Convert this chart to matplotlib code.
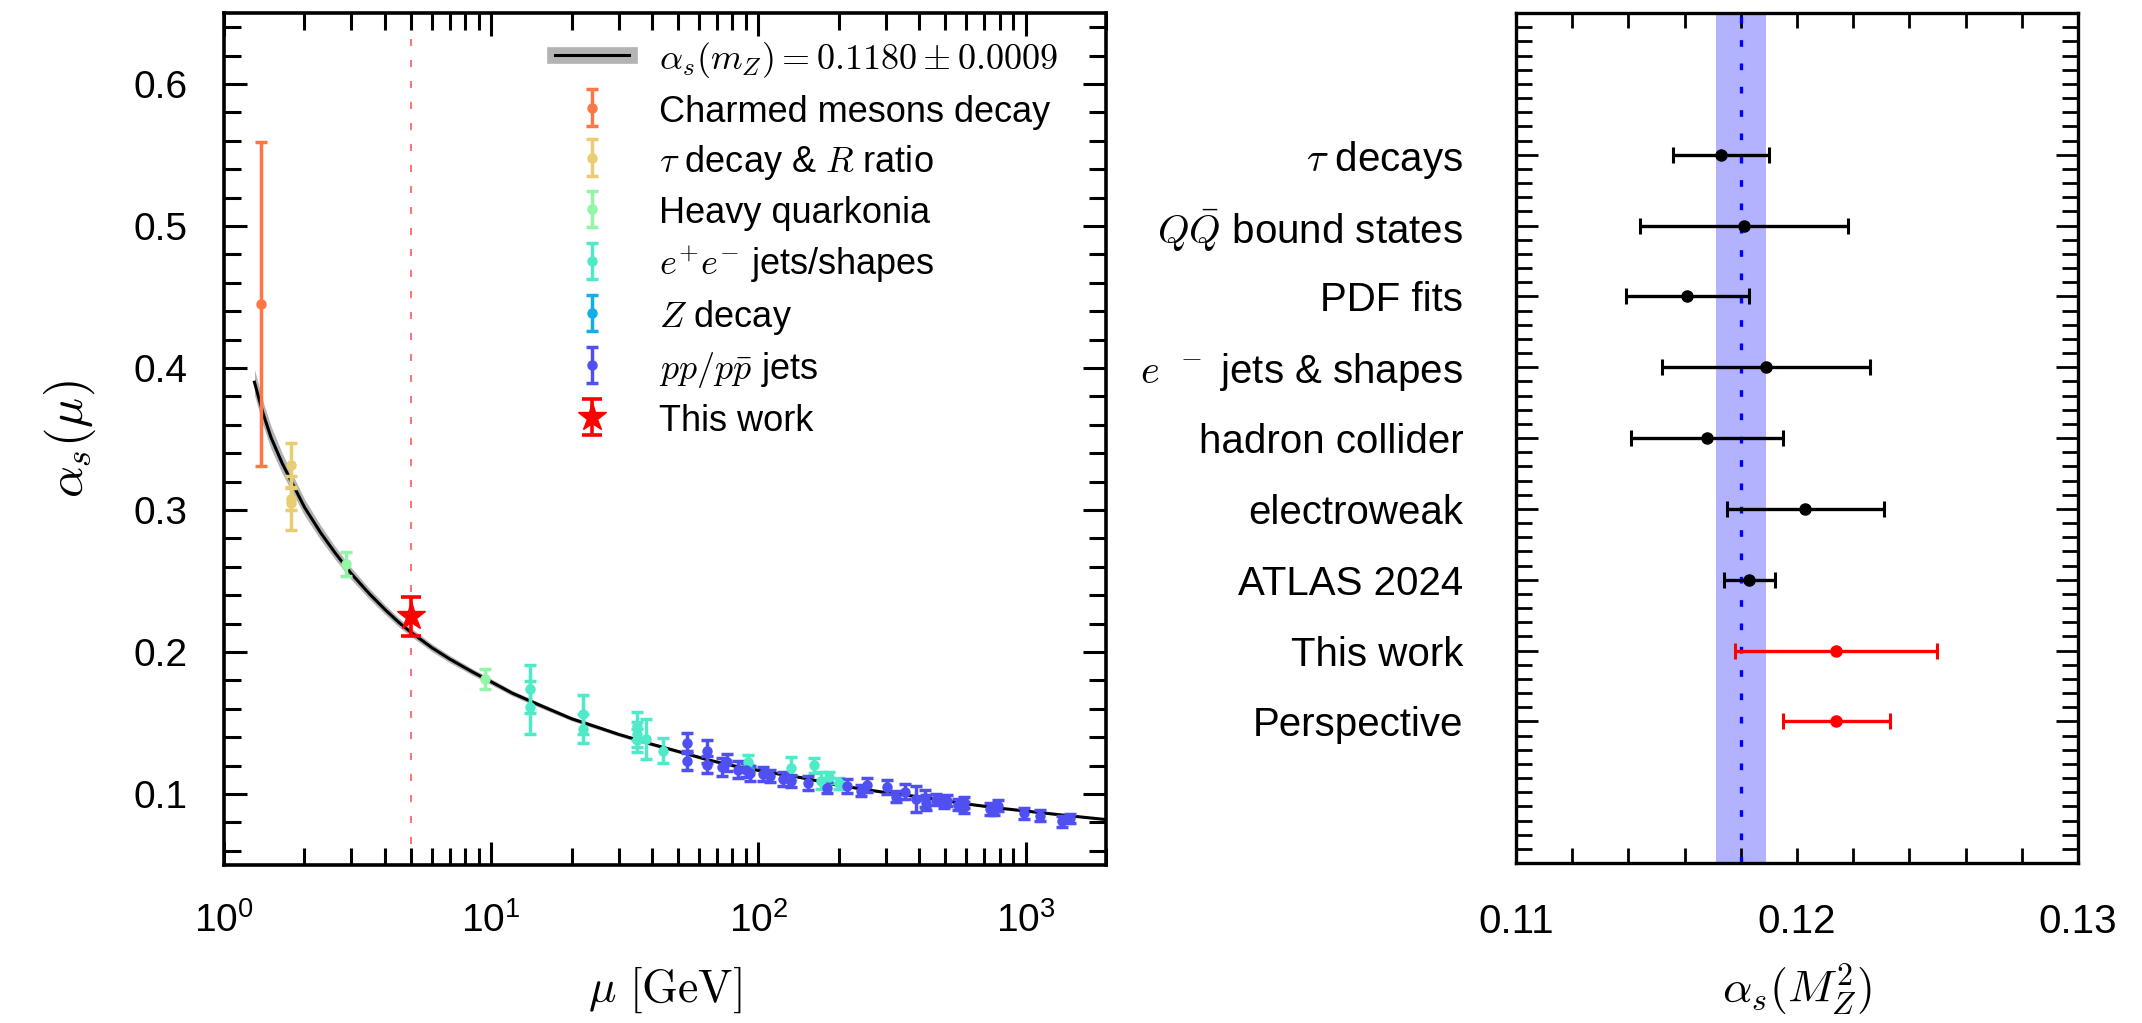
import numpy as np
import matplotlib
matplotlib.use('Agg')
import matplotlib.pyplot as plt
from matplotlib.ticker import MultipleLocator, NullFormatter
from matplotlib.lines import Line2D

plt.rcParams['font.family'] = ['Liberation Sans', 'DejaVu Sans']
plt.rcParams['mathtext.fontset'] = 'custom'
plt.rcParams['mathtext.rm'] = 'Liberation Sans'
plt.rcParams['mathtext.it'] = 'Liberation Sans:italic'
plt.rcParams['mathtext.bf'] = 'Liberation Sans:bold'

# ---- left panel: running coupling curve ----
curve_mu = np.array([1.3, 1.4, 1.5, 1.65, 1.8, 2.0, 2.3, 2.6, 3.0, 3.5, 4.0, 4.5, 5.0,
                     6.0, 7.0, 8.5, 10, 12, 15, 20, 25, 30, 40, 50, 65, 80, 91.2,
                     120, 150, 200, 300, 400, 600, 800, 1000, 1400, 2000])
curve_alpha = np.array([0.390, 0.368, 0.351, 0.333, 0.319, 0.302, 0.284, 0.270, 0.255,
                        0.241, 0.230, 0.221, 0.214, 0.203, 0.195, 0.186, 0.179, 0.171,
                        0.163, 0.153, 0.147, 0.142, 0.135, 0.130, 0.124, 0.120, 0.118,
                        0.114, 0.111, 0.106, 0.101, 0.098, 0.093, 0.090, 0.088, 0.085,
                        0.082])
curve_band = np.array([0.009, 0.0085, 0.008, 0.0072, 0.0065, 0.0058, 0.0051, 0.0046, 0.0042,
                       0.0037, 0.0034, 0.0031, 0.0030, 0.0027, 0.0025, 0.0023, 0.0021,
                       0.0019, 0.0017, 0.0015, 0.0014, 0.0013, 0.0012, 0.0011, 0.0010,
                       0.0009, 0.0009, 0.0008, 0.0008, 0.0007, 0.0007, 0.0006, 0.0006,
                       0.0005, 0.0005, 0.0005, 0.0004])

charm_mu = [1.38]
charm_a = [0.445]
charm_e = [0.114]

tau_mu = [1.78, 1.78, 1.78]
tau_a = [0.332, 0.308, 0.305]
tau_e = [0.0155, 0.0077, 0.019]

quark_mu = [2.87, 9.46]
quark_a = [0.262, 0.181]
quark_e = [0.0085, 0.007]

ee_mu = [14, 14, 22, 22, 35, 35, 35, 38, 44, 91.2, 133, 161, 172, 183, 200]
ee_a = [0.174, 0.161, 0.156, 0.146, 0.148, 0.142, 0.1377, 0.1387, 0.1306, 0.1228,
        0.1183, 0.1204, 0.1094, 0.1118, 0.1075]
ee_e = [0.017, 0.0185, 0.014, 0.010, 0.010, 0.009, 0.008, 0.014, 0.0085, 0.005,
        0.008, 0.0053, 0.006, 0.004, 0.004]

z_mu = [91.19]
z_a = [0.1185]
z_e = [0.0016]

pp_mu = [54, 54, 64, 64, 73, 76, 84, 90, 93, 104, 111, 124, 133, 153, 181, 215, 243,
         255, 304, 326, 355, 390, 419, 425, 463, 497, 509, 557, 587, 590, 738, 764,
         791, 984, 1135, 1367, 1468]
pp_a = [0.1357, 0.1235, 0.130, 0.1207, 0.1190, 0.1225, 0.1172, 0.1168, 0.1145, 0.1140,
        0.1128, 0.1106, 0.1092, 0.1077, 0.1044, 0.1057, 0.1024, 0.1063, 0.1052, 0.0982,
        0.1017, 0.0965, 0.097, 0.094, 0.096, 0.094, 0.0953, 0.0925, 0.0942, 0.0907,
        0.0894, 0.0883, 0.0918, 0.0864, 0.0847, 0.0808, 0.0829]
pp_e = [0.007, 0.0065, 0.008, 0.006, 0.006, 0.006, 0.006, 0.005, 0.005, 0.005, 0.004,
        0.005, 0.004, 0.005, 0.004, 0.005, 0.004, 0.005, 0.005, 0.004, 0.005, 0.009,
        0.006, 0.005, 0.004, 0.004, 0.004, 0.004, 0.004, 0.004, 0.004, 0.003, 0.004,
        0.004, 0.004, 0.004, 0.003]

star_mu = [5.0]
star_a = [0.225]
star_e = [0.014]
mu_line = 5.0

# ---- right panel: alpha_s(MZ) summary ----
row_labels = [r'$\tau$ decays', r'$Q\bar{Q}$ bound states', 'PDF fits',
              r'$e^{\;\;-}$ jets & shapes', 'hadron collider', 'electroweak',
              'ATLAS 2024', 'This work', 'Perspective']
row_val = [0.1173, 0.1181, 0.1161, 0.1189, 0.1168, 0.1203, 0.1183, 0.1214, 0.1214]
row_err = [0.0017, 0.0037, 0.0022, 0.0037, 0.0027, 0.0028, 0.0009, 0.0036, 0.0019]
row_col = ['k', 'k', 'k', 'k', 'k', 'k', 'k', 'red', 'red']
world_avg = 0.1180
world_err = 0.0009

fig = plt.figure(figsize=(21.42, 10.23), dpi=100)

ax = fig.add_axes([0.10458, 0.15445, 0.41176, 0.83284])
ax.set_xscale('log')
ax.fill_between(curve_mu, curve_alpha - curve_band, curve_alpha + curve_band,
                color='#b3b3b3', lw=0, zorder=1)
ax.plot(curve_mu, curve_alpha, color='k', lw=2.2, zorder=2)
ax.axvline(mu_line, color='#ff5a5a', lw=1.2, ls=(0, (4.2, 8.4)), zorder=1)

kw = dict(fmt='o', ms=6.5, lw=2.5, capsize=4.5, capthick=2.5, zorder=3)
h_charm = ax.errorbar(charm_mu, charm_a, yerr=charm_e, color='#ff7646', **kw)
h_tau = ax.errorbar(tau_mu, tau_a, yerr=tau_e, color='#e8cd72', **kw)
h_quark = ax.errorbar(quark_mu, quark_a, yerr=quark_e, color='#93f5a6', **kw)
h_z = ax.errorbar(z_mu, z_a, yerr=z_e, color='#10b0e6', **kw)
h_ee = ax.errorbar(ee_mu, ee_a, yerr=ee_e, color='#50eac8', **kw)
h_pp = ax.errorbar(pp_mu, pp_a, yerr=pp_e, color='#5050f2', **kw)
h_star = ax.errorbar(star_mu, star_a, yerr=star_e, fmt='*', color='red', ms=21,
                     lw=2.6, capsize=7, capthick=2.6, zorder=4)

ax.set_xlim(1, 2000)
ax.set_ylim(0.05, 0.65)
ax.set_xticks([1, 10, 100, 1000], labels=[r'$10^{0}$', r'$10^{1}$', r'$10^{2}$', r'$10^{3}$'])
ax.xaxis.set_minor_formatter(NullFormatter())
ax.set_yticks([0.1, 0.2, 0.3, 0.4, 0.5, 0.6], labels=['0.1', '0.2', '0.3', '0.4', '0.5', '0.6'])
ax.yaxis.set_minor_locator(MultipleLocator(0.02))
ax.tick_params(which='both', direction='in', top=True, right=True, width=2.2)
ax.tick_params(which='major', length=16.5)
ax.tick_params(which='minor', length=12)
ax.tick_params(axis='y', labelsize=28, pad=26)
ax.tick_params(axis='x', labelsize=28, pad=27)
for s in ax.spines.values():
    s.set_linewidth(2.6)

ax.set_xlabel(r'$\mu\ [\mathrm{GeV}]$', fontsize=33, math_fontfamily='cm')
ax.xaxis.set_label_coords(0.5, -0.117)
ax.set_ylabel(r'$\alpha_s(\mu)$', fontsize=36, math_fontfamily='cm')
ax.yaxis.set_label_coords(-0.143, 0.5)

band_handle = (Line2D([], [], color='#b3b3b3', lw=12), Line2D([], [], color='k', lw=2.2))
handles = [band_handle, h_charm, h_tau, h_quark, h_ee, h_z, h_pp, h_star]
labels = [r'$\alpha_s(m_Z) = 0.1180 \pm 0.0009$', 'Charmed mesons decay',
          r'$\tau$ decay & $R$ ratio', 'Heavy quarkonia', r'$e^{+}e^{-}$ jets/shapes',
          r'$Z$ decay', r'$pp/p\bar{p}$ jets', 'This work']
leg = ax.legend(handles, labels, loc='upper left', bbox_to_anchor=(0.375, 0.968),
                frameon=False, fontsize=26, handlelength=2.05, handletextpad=0.85,
                handleheight=1.0, labelspacing=0.36, borderpad=0, borderaxespad=0)
for t in leg.get_texts():
    t.set_math_fontfamily('cm')

# right panel
ax2 = fig.add_axes([0.70775, 0.15640, 0.26237, 0.83089])
ypos = np.arange(len(row_labels))[::-1] + 1
ax2.axvspan(world_avg - world_err, world_avg + world_err, color='blue', alpha=0.3, lw=0)
ax2.axvline(world_avg, color='blue', lw=2.4, ls=(0, (2.0, 5.0)))
for y, v, e, c in zip(ypos, row_val, row_err, row_col):
    ax2.errorbar([v], [y], xerr=[e], fmt='o', color=c, ms=8, lw=2.4, capsize=5.5, capthick=2.2)

ax2.set_xlim(0.11, 0.13)
ax2.set_ylim(-1, 11)
xt = np.arange(0.11, 0.13001, 0.002)
ax2.set_xticks(xt, labels=['0.11' if abs(v - 0.11) < 1e-6 else '0.12' if abs(v - 0.12) < 1e-6
                           else '0.13' if abs(v - 0.13) < 1e-6 else '' for v in xt])
ax2.set_yticks(ypos, labels=row_labels)
ax2.yaxis.set_minor_locator(MultipleLocator(0.2))
ax2.tick_params(which='both', direction='in', top=True, right=True, width=2)
ax2.tick_params(axis='x', length=11, labelsize=29, pad=29)
ax2.tick_params(axis='y', which='major', length=16, labelsize=29, pad=38)
ax2.tick_params(axis='y', which='minor', length=11.5)
for t in ax2.get_yticklabels():
    t.set_math_fontfamily('cm')
for s in ax2.spines.values():
    s.set_linewidth(2.4)
ax2.set_xlabel(r'$\alpha_s(M_Z^2)$', fontsize=33, math_fontfamily='cm')
ax2.xaxis.set_label_coords(0.5, -0.115)

fig.savefig('out.png', dpi=100)
